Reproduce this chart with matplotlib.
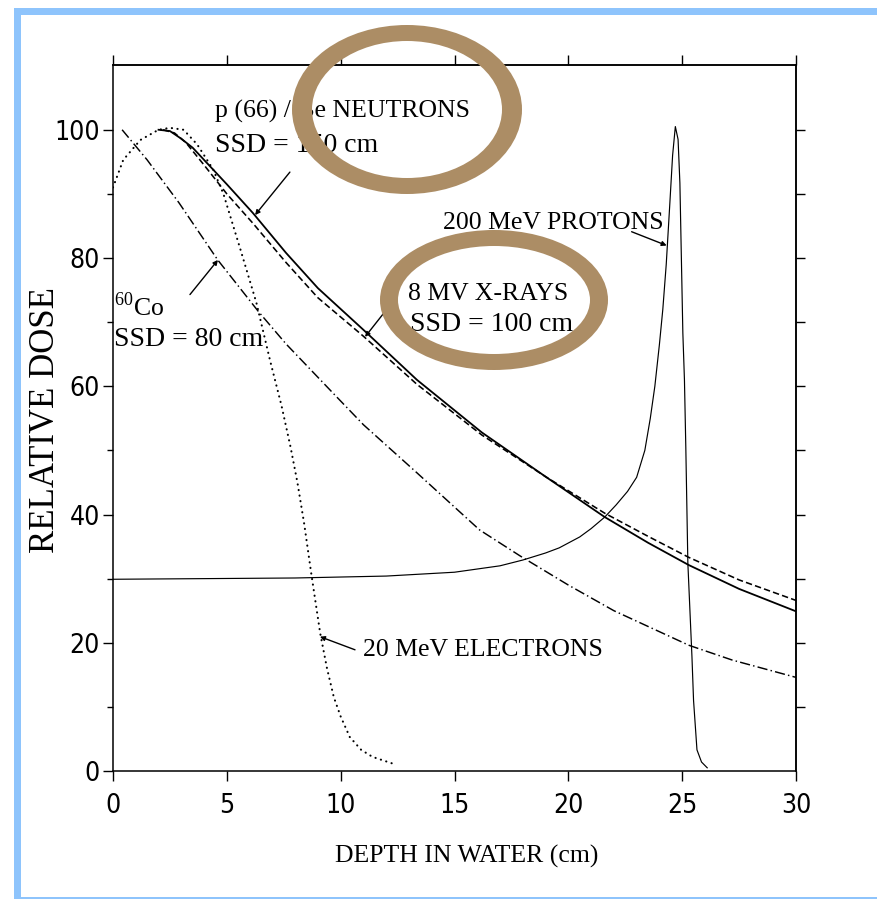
import matplotlib
matplotlib.use("Agg")
import matplotlib.pyplot as plt
from matplotlib.patches import PathPatch, Rectangle
from matplotlib.path import Path
from matplotlib.transforms import Affine2D
from matplotlib.ticker import NullFormatter

W, H = 878, 899

# depth-dose curves (depth in cm, relative dose)
neutron_depth = [2.0, 2.5, 3.0, 3.5, 4.0, 5.0, 6.15, 7.6, 9.0, 11.0, 13.35, 16.2, 19.0, 21.6, 23.5, 25.3, 27.5, 30.0]
neutron_dose = [100.0, 99.8, 98.6, 97.2, 95.3, 91.5, 87.0, 80.8, 75.3, 68.8, 61.0, 52.8, 45.9, 39.6, 35.6, 32.1, 28.4, 24.9]

xray_depth = [2.2, 2.7, 3.2, 4.0, 5.0, 6.15, 7.6, 9.0, 11.0, 13.35, 16.2, 19.0, 21.6, 23.5, 25.3, 27.5, 30.0]
xray_dose = [100.0, 99.5, 98.0, 94.5, 90.0, 85.4, 79.3, 73.8, 67.8, 60.3, 52.4, 45.9, 40.2, 36.6, 33.3, 29.8, 26.6]

co60_depth = [0.4, 1.5, 2.9, 4.6, 6.4, 7.6, 9.7, 11.0, 13.35, 16.1, 17.9, 20.0, 22.0, 25.3, 27.2, 30.0]
co60_dose = [100.0, 95.3, 88.6, 79.7, 71.6, 66.6, 58.8, 54.0, 46.5, 37.6, 33.5, 29.0, 25.0, 19.6, 17.3, 14.6]

electron_depth = [0.0, 0.45, 1.2, 2.0, 2.5, 3.1, 3.7, 4.4, 4.85, 5.6, 6.3, 6.9, 7.4, 7.8, 8.1, 8.4, 8.7, 9.1, 9.4, 9.7,
                  10.0, 10.4, 10.9, 11.4, 12.25]
electron_dose = [91.0, 95.3, 98.4, 100.0, 100.3, 100.0, 97.7, 93.8, 90.0, 81.3, 73.0, 64.0, 57.0, 50.5, 45.0, 38.5, 31.0,
                 21.5, 16.0, 11.5, 8.5, 5.3, 3.3, 2.2, 1.2]

proton_depth = [0.0, 4.0, 8.0, 12.0, 15.0, 17.0, 18.0, 19.0, 19.6, 20.5, 21.0, 21.6, 22.1, 22.6, 23.0, 23.36, 23.6, 23.8,
                24.0, 24.15, 24.3, 24.45, 24.58, 24.7, 24.82, 24.9, 25.03, 25.1, 25.16, 25.25, 25.43, 25.5, 25.65,
                25.85, 26.1]
proton_dose = [29.9, 30.0, 30.1, 30.4, 31.0, 32.0, 32.9, 34.0, 34.8, 36.5, 37.8, 39.6, 41.5, 43.6, 45.8, 50.0, 55.0, 60.0,
               66.5, 72.0, 79.0, 88.0, 96.0, 100.5, 98.5, 91.7, 68.3, 61.0, 50.5, 32.4, 17.8, 11.0, 3.3, 1.4, 0.5]

x_ticks = [0, 5, 10, 15, 20, 25, 30]
y_ticks = [0, 20, 40, 60, 80, 100]
y_minor = [10, 30, 50, 70, 90]
right_ticks = [10, 20, 30, 40, 50, 60, 70, 80, 90, 100]

SERIF = ["Liberation Serif", "DejaVu Serif"]
plt.rcParams["mathtext.fontset"] = "custom"
plt.rcParams["mathtext.rm"] = "Liberation Serif"

fig = plt.figure(figsize=(W / 100, H / 100), dpi=100)
fig.patch.set_facecolor("white")
ax = fig.add_axes([113 / W, 1 - 771 / H, (796 - 113) / W, (771 - 65) / H])
ax.set_xlim(0, 30)
ax.set_ylim(0, 110.1)

ax.plot(neutron_depth, neutron_dose, color="black", lw=1.3)
ax.plot(xray_depth, xray_dose, color="black", lw=1.15, ls=(0, (4, 2)))
ax.plot(co60_depth, co60_dose, color="black", lw=1.05, ls=(0, (7, 2.2, 1, 2.2)))
ax.plot(electron_depth, electron_dose, color="black", lw=1.5, ls=(0, (0.1, 2.6)), dash_capstyle="round")
ax.plot(proton_depth, proton_dose, color="black", lw=0.85)

# tick marks: labelled left/bottom, bare on top/right
ax.set_xticks(x_ticks)
ax.set_yticks(y_ticks)
ax.set_yticks(y_minor, minor=True)
ax.tick_params(which="major", direction="out", length=7.5, width=1.0, labelsize=19, pad=2)
ax.tick_params(axis="x", pad=8)
ax.tick_params(which="minor", direction="out", length=4.5, width=1.0)
for lab in ax.get_xticklabels() + ax.get_yticklabels():
    lab.set_family("DejaVu Sans")
    lab.set_fontstretch("condensed")
for sp in ax.spines.values():
    sp.set_linewidth(1.1)

secx = ax.secondary_xaxis("top")
secx.set_xticks(x_ticks)
secx.xaxis.set_major_formatter(NullFormatter())
secx.tick_params(direction="out", length=7, width=1.0)
secx.spines["top"].set_linewidth(1.1)

secy = ax.secondary_yaxis("right")
secy.set_yticks(right_ticks)
secy.yaxis.set_major_formatter(NullFormatter())
secy.tick_params(direction="out", length=6.5, width=1.0)
secy.spines["right"].set_linewidth(1.1)

# labels
ax.text(15.55, -14.35, "DEPTH IN WATER (cm)", fontsize=18.5, family=SERIF, ha="center", va="baseline", clip_on=False)
ax.text(-2.6, 54.8, "RELATIVE DOSE", fontsize=25, family=SERIF, rotation=90, ha="center", va="baseline",
        rotation_mode="anchor", clip_on=False)

txt = dict(fontsize=18.5, family=SERIF, ha="left", va="baseline")
ssd = dict(txt, fontsize=20)
ax.text(4.48, 101.9, "p (66) / Be NEUTRONS", **txt)
ax.text(4.48, 96.6, "SSD = 150 cm", **ssd)
ax.text(0.05, 70.9, r"$^{60}$Co", **txt)
ax.text(0.05, 66.3, "SSD = 80 cm", **ssd)
ax.text(12.96, 73.5, "8 MV X-RAYS", **txt)
ax.text(13.04, 68.6, "SSD = 100 cm", **ssd)
ax.text(14.49, 84.5, "200 MeV PROTONS", **txt)
ax.text(10.98, 17.9, "20 MeV ELECTRONS", **txt)

arrow = dict(arrowstyle="-|>", color="black", lw=1.0, mutation_scale=7, shrinkA=0, shrinkB=0)
ax.annotate("", xy=(6.24, 86.7), xytext=(7.77, 93.4), arrowprops=arrow)
ax.annotate("", xy=(4.61, 79.7), xytext=(3.38, 74.3), arrowprops=arrow)
ax.annotate("", xy=(11.07, 67.7), xytext=(12.47, 74.0), arrowprops=arrow)
ax.annotate("", xy=(24.32, 81.95), xytext=(22.78, 84.1), arrowprops=arrow)
ax.annotate("", xy=(9.09, 20.95), xytext=(10.63, 18.9), arrowprops=arrow)

# overlays drawn in image pixels (origin top-left)
pix = Affine2D().scale(1 / W, -1 / H).translate(0, 1) + fig.transFigure


def ring(cx, cy, ow, oh, tx, ty):
    outer = Affine2D().scale(ow / 2, oh / 2).translate(cx, cy).transform_path(Path.unit_circle())
    inner = Affine2D().scale(-(ow / 2 - tx), oh / 2 - ty).translate(cx, cy).transform_path(Path.unit_circle())
    return PathPatch(Path.make_compound_path(outer, inner), facecolor="#ac8d65", edgecolor="none",
                     transform=pix, zorder=5)


fig.add_artist(ring(407, 109.5, 230, 169, 20, 16))
fig.add_artist(ring(494, 300, 228, 140, 18, 16))

blue = "#8ec4fc"
fig.add_artist(Rectangle((14, 8), W - 14, 7, facecolor=blue, edgecolor="none", transform=pix, zorder=5))
fig.add_artist(Rectangle((14, 8), 7, H - 8, facecolor=blue, edgecolor="none", transform=pix, zorder=5))
fig.add_artist(Rectangle((14, 896.5), W - 14, 2.5, facecolor=blue, edgecolor="none", transform=pix, zorder=5))

fig.savefig("out.png", dpi=100)
